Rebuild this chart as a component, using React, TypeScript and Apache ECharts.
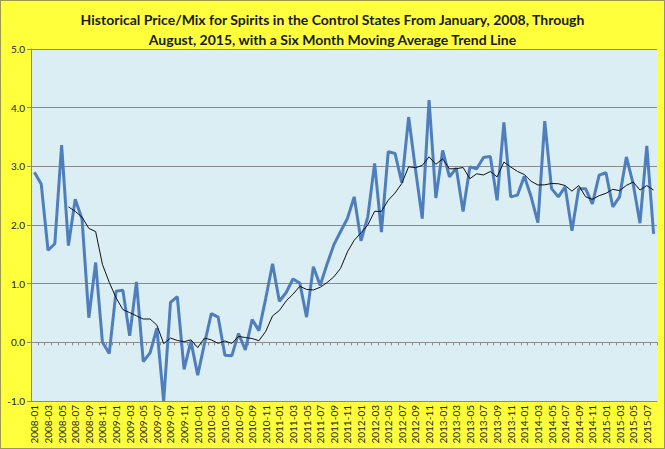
import React, { useEffect, useRef } from "react";
import * as echarts from "echarts";

const titleText =
  "Historical Price/Mix for Spirits in the Control States From January, 2008, Through\nAugust, 2015, with a Six Month Moving Average Trend Line";

const months: string[] = [
  "2008-01", "2008-02", "2008-03", "2008-04", "2008-05", "2008-06", "2008-07", "2008-08", "2008-09", "2008-10", "2008-11", "2008-12",
  "2009-01", "2009-02", "2009-03", "2009-04", "2009-05", "2009-06", "2009-07", "2009-08", "2009-09", "2009-10", "2009-11", "2009-12",
  "2010-01", "2010-02", "2010-03", "2010-04", "2010-05", "2010-06", "2010-07", "2010-08", "2010-09", "2010-10", "2010-11", "2010-12",
  "2011-01", "2011-02", "2011-03", "2011-04", "2011-05", "2011-06", "2011-07", "2011-08", "2011-09", "2011-10", "2011-11", "2011-12",
  "2012-01", "2012-02", "2012-03", "2012-04", "2012-05", "2012-06", "2012-07", "2012-08", "2012-09", "2012-10", "2012-11", "2012-12",
  "2013-01", "2013-02", "2013-03", "2013-04", "2013-05", "2013-06", "2013-07", "2013-08", "2013-09", "2013-10", "2013-11", "2013-12",
  "2014-01", "2014-02", "2014-03", "2014-04", "2014-05", "2014-06", "2014-07", "2014-08", "2014-09", "2014-10", "2014-11", "2014-12",
  "2015-01", "2015-02", "2015-03", "2015-04", "2015-05", "2015-06", "2015-07", "2015-08",
];

const priceMix2008: number[] = [2.9, 2.7, 1.57, 1.68, 3.36, 1.65, 2.44, 2.1, 0.42, 1.36, 0.0, -0.19];
const priceMix2009: number[] = [0.87, 0.89, 0.11, 1.03, -0.33, -0.18, 0.24, -1.0, 0.68, 0.78, -0.46, 0.02];
const priceMix2010: number[] = [-0.56, -0.02, 0.49, 0.43, -0.22, -0.23, 0.15, -0.13, 0.39, 0.2, 0.75, 1.34];
const priceMix2011: number[] = [0.7, 0.85, 1.08, 1.01, 0.43, 1.29, 0.97, 1.33, 1.66, 1.89, 2.11, 2.48];
const priceMix2012: number[] = [1.73, 2.14, 3.05, 1.88, 3.25, 3.22, 2.72, 3.84, 2.95, 2.11, 4.13, 2.46];
const priceMix2013: number[] = [3.27, 2.82, 2.97, 2.23, 2.99, 2.96, 3.15, 3.17, 2.42, 3.75, 2.48, 2.51];
const priceMix2014: number[] = [2.83, 2.48, 2.04, 3.77, 2.62, 2.48, 2.65, 1.9, 2.62, 2.62, 2.36, 2.85];
const priceMix2015: number[] = [2.89, 2.31, 2.48, 3.16, 2.7, 2.03, 3.35, 1.85];

const priceMix: number[] = [
  ...priceMix2008, ...priceMix2009, ...priceMix2010, ...priceMix2011,
  ...priceMix2012, ...priceMix2013, ...priceMix2014, ...priceMix2015,
];

const maPeriod = 6;
const movingAvg: (number | null)[] = priceMix.map((_, i) => {
  if (i < maPeriod - 1) return null;
  let s = 0;
  for (let k = i - maPeriod + 1; k <= i; k++) s += priceMix[k];
  return +(s / maPeriod).toFixed(3);
});

const yMin = -1;
const yMax = 5;
const yStep = 1;

export default function App() {
  const ref = useRef<HTMLDivElement>(null);
  useEffect(() => {
    if (!ref.current) return;
    const chart = echarts.init(ref.current, undefined, { renderer: "svg" });
    const gridColor = "#8a8a8a";
    chart.setOption({
      animation: false,
      backgroundColor: "#FFFF3C",
      title: {
        text: titleText,
        left: "center",
        top: 3,
        textStyle: {
          fontFamily: "Lato",
          fontWeight: "bold",
          fontSize: 14,
          lineHeight: 20,
          color: "#1a1a1a",
        },
      },
      grid: {
        left: 30,
        right: 7,
        top: 48,
        bottom: 47,
        show: true,
        backgroundColor: "#DBEEF4",
        borderWidth: 0,
      },
      xAxis: [
        {
          type: "category",
          data: months,
          position: "bottom",
          boundaryGap: true,
          axisLine: { onZero: false, show: true, lineStyle: { color: gridColor, width: 1 } },
          axisTick: { show: false },
          axisLabel: {
            interval: 1,
            rotate: 90,
            fontFamily: "Lato",
            fontSize: 10,
            color: "#222",
            margin: 4,
          },
          splitLine: { show: false },
        },
        {
          type: "category",
          data: months,
          position: "top",
          boundaryGap: true,
          axisLine: { onZero: true, show: true, lineStyle: { color: gridColor, width: 1 } },
          axisTick: { show: true, inside: true, interval: 0, length: 3, lineStyle: { color: gridColor } },
          axisLabel: { show: false },
          splitLine: { show: false },
        },
      ],
      yAxis: {
        type: "value",
        min: yMin,
        max: yMax,
        interval: yStep,
        axisLine: { show: true, lineStyle: { color: gridColor, width: 1 } },
        axisTick: { show: true, length: 4, lineStyle: { color: gridColor } },
        axisLabel: {
          formatter: (v: number) => v.toFixed(1),
          fontFamily: "Lato",
          fontSize: 10,
          color: "#222",
          margin: 6,
        },
        splitLine: { show: true, lineStyle: { color: gridColor, width: 1 } },
      },
      series: [
        {
          name: "Price/Mix",
          type: "line",
          xAxisIndex: 0,
          data: priceMix,
          showSymbol: false,
          symbol: "none",
          lineStyle: { color: "#4F7EBD", width: 3 },
          z: 3,
        },
        {
          name: "6 Month Moving Average",
          type: "line",
          xAxisIndex: 0,
          data: movingAvg,
          showSymbol: false,
          symbol: "none",
          connectNulls: false,
          lineStyle: { color: "#111", width: 1 },
          z: 4,
        },
      ],
    });
    return () => chart.dispose();
  }, []);
  return (
    <div
      ref={ref}
      style={{
        position: "fixed",
        left: 0,
        top: 0,
        width: 665,
        height: 449,
        boxSizing: "border-box",
        border: "1px solid #9a9a4a",
      }}
    />
  );
}
